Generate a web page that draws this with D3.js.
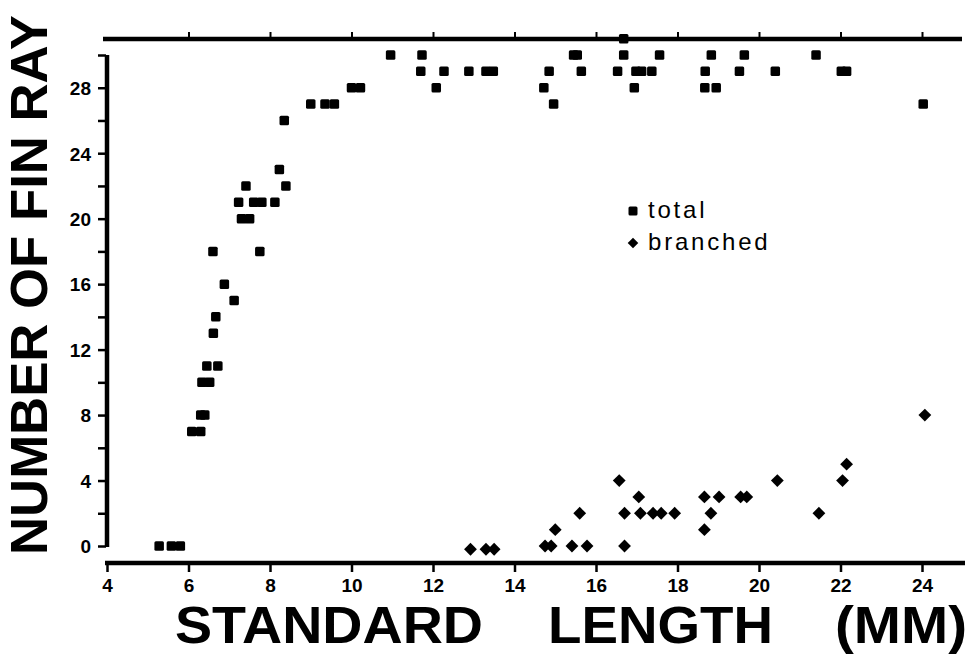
<!DOCTYPE html>
<html>
<head>
<meta charset="utf-8">
<script src="https://cdn.jsdelivr.net/npm/d3@7"></script>
<style>
  body { margin: 0; background: #fff; }
  svg { display: block; }
  text { font-family: "Liberation Sans", Arial, sans-serif; fill: #000; }
</style>
</head>
<body>
<div id="page"></div>
<script>
// total fin rays: standard length (mm) / count
var totalX = [5.28, 5.58, 5.8, 6.08, 6.3, 6.3, 6.4, 6.33, 6.52, 6.45, 6.72, 6.61, 6.67, 7.12, 6.88,
    6.6, 7.75, 7.3, 7.5, 7.23, 7.6, 7.8, 8.12, 7.41, 8.39, 8.23, 8.35, 9.0, 9.35, 9.58,
    10.0, 10.22, 10.96, 11.73, 11.7, 12.08, 12.27, 12.88, 13.3, 13.48, 14.85, 14.72, 14.96,
    15.45, 15.54, 15.64, 16.68, 16.68, 16.53, 16.98, 17.12, 16.94, 17.37, 17.56, 18.83,
    18.68, 18.67, 18.95, 19.64, 19.52, 20.4, 21.4, 22.02, 22.15, 24.03];
var totalY = [0, 0, 0, 7, 7, 8, 8, 10, 10, 11, 11, 13, 14, 15, 16,
    18, 18, 20, 20, 21, 21, 21, 21, 22, 22, 23, 26, 27, 27, 27,
    28, 28, 30, 30, 29, 28, 29, 29, 29, 29, 29, 28, 27,
    30, 30, 29, 30, 31, 29, 29, 29, 28, 29, 30, 30,
    29, 28, 28, 30, 29, 29, 30, 29, 29, 27];
// branched fin rays
var branchedX = [12.92, 13.3, 13.5, 14.75, 14.9, 15.41, 15.78, 15.0, 15.6, 16.57, 16.7, 16.7,
    17.05, 17.09, 17.4, 17.6, 17.93, 18.66, 19.02, 18.82, 18.66, 19.55, 19.7, 20.45,
    21.47, 22.05, 22.15, 24.07];
var branchedY = [-0.2, -0.2, -0.2, 0, 0, 0, 0, 1, 2, 4, 2, 0,
    3, 2, 2, 2, 2, 3, 3, 2, 1, 3, 3, 4,
    2, 4, 5, 8];
var xTicks = [4, 6, 8, 10, 12, 14, 16, 18, 20, 22, 24];
var yTicks = [0, 2, 4, 6, 8, 10, 12, 14, 16, 18, 20, 22, 24, 26, 28, 30];
var yLabels = [0, 4, 8, 12, 16, 20, 24, 28];
var legendNames = ['total', 'branched'];

var W = 970, H = 656;
var svg = d3.select('#page').append('svg').attr('width', W).attr('height', H);

var x = d3.scaleLinear().domain([4, 24]).range([107, 922]);
var y = d3.scaleLinear().domain([0, 30]).range([546, 55]);

// bottom axis
var xAxis = svg.append('g').attr('transform', 'translate(0,563)')
    .call(d3.axisBottom(x).tickValues(xTicks).tickSize(9).tickSizeOuter(0));
xAxis.select('.domain').remove();
xAxis.selectAll('.tick line').attr('stroke', '#000').attr('stroke-width', 2.5);
xAxis.selectAll('.tick text').attr('y', 29).attr('dy', 0)
    .style('font-size', '19px').style('font-weight', 'bold');
svg.append('line').attr('x1', 105).attr('x2', 965).attr('y1', 563).attr('y2', 563)
    .attr('stroke', '#000').attr('stroke-width', 4.5);

// top axis
var topAxis = svg.append('g').attr('transform', 'translate(0,39)')
    .call(d3.axisTop(x).tickValues(xTicks.slice(1)).tickSize(7).tickFormat(''));
topAxis.select('.domain').remove();
topAxis.selectAll('.tick line').attr('stroke', '#000').attr('stroke-width', 2);
svg.append('line').attr('x1', 103).attr('x2', 962).attr('y1', 39).attr('y2', 39)
    .attr('stroke', '#000').attr('stroke-width', 4.5);

// left axis
var yAxis = svg.append('g').attr('transform', 'translate(106,0)')
    .call(d3.axisLeft(y).tickValues(yTicks).tickSize(8).tickSizeOuter(0)
        .tickFormat(d => yLabels.indexOf(d) >= 0 ? d : ''));
yAxis.select('.domain').remove();
yAxis.selectAll('.tick line').attr('stroke', '#000').attr('stroke-width', 2.5);
yAxis.selectAll('.tick text').attr('x', -15).attr('dy', '0.36em')
    .style('font-size', '19px').style('font-weight', 'bold');
svg.append('line').attr('x1', 107).attr('x2', 107).attr('y1', y(30)).attr('y2', y(0) + 1)
    .attr('stroke', '#000').attr('stroke-width', 4.5);

// markers
var sq = 9.5;
svg.append('g').selectAll('rect').data(totalX).join('rect')
    .attr('x', (d) => x(d) - sq / 2)
    .attr('y', (d, i) => y(totalY[i]) - sq / 2)
    .attr('width', sq).attr('height', sq).attr('rx', 1.5)
    .attr('fill', '#000');

var diamond = d3.symbol().type(d3.symbolSquare).size(82);
svg.append('g').selectAll('path').data(branchedX).join('path')
    .attr('d', diamond)
    .attr('transform', (d, i) => 'translate(' + x(d) + ',' + y(branchedY[i]) + ') rotate(45)')
    .attr('fill', '#000');

// legend
var leg = svg.append('g').attr('transform', 'translate(633,211)');
leg.append('rect').attr('x', -4.5).attr('y', -4.5).attr('width', 9).attr('height', 9).attr('rx', 1.5);
leg.append('path').attr('d', d3.symbol().type(d3.symbolSquare).size(56))
    .attr('transform', 'translate(0,32) rotate(45)');
leg.selectAll('text').data(legendNames).join('text')
    .attr('x', 15).attr('y', (d, i) => 7 + i * 32)
    .style('font-size', '24px').style('letter-spacing', '2.8px')
    .text((d) => d);

// axis titles
svg.append('text')
    .attr('transform', 'translate(47,285) rotate(-90)')
    .attr('text-anchor', 'middle')
    .attr('textLength', 540).attr('lengthAdjust', 'spacingAndGlyphs')
    .style('font-size', '51px').style('font-weight', 'bold')
    .text('NUMBER OF FIN RAY');

var xWords = [['STANDARD', 175, 308], ['LENGTH', 548, 225], ['(MM)', 835, 132]];
svg.append('g').selectAll('text').data(xWords).join('text')
    .attr('x', (d) => d[1]).attr('y', 643)
    .attr('textLength', (d) => d[2]).attr('lengthAdjust', 'spacingAndGlyphs')
    .style('font-size', '52px').style('font-weight', 'bold')
    .text((d) => d[0]);
</script>
</body>
</html>
